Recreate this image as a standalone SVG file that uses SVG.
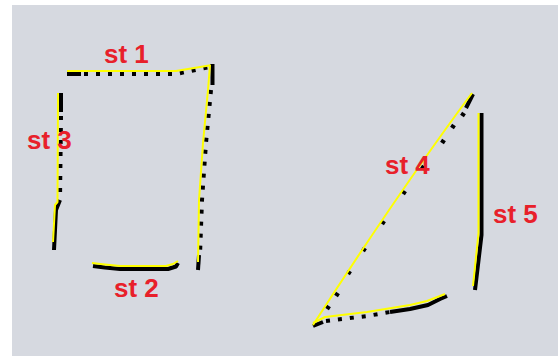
<svg xmlns="http://www.w3.org/2000/svg" width="558" height="356" viewBox="0 0 558 356">
<style>
.y{fill:none;stroke:#ffff00;stroke-width:2;stroke-linejoin:round}
.b{fill:none;stroke:#000;stroke-width:4;stroke-linejoin:round}
.d{stroke-dasharray:4 8}
.lbl{font-family:"Liberation Sans",Arial,sans-serif;font-weight:bold;font-size:26px;fill:#e8202a}
</style>
<rect x="0" y="0" width="558" height="356" fill="#ffffff"/>
<rect x="12" y="5" width="546" height="351" fill="#d6d9e0"/>
<g id="st1">
<path class="b" d="M67,74 L81,74"/>
<path class="b d" d="M84,74 L176,74 L200,69 L210,67"/>
<path class="y" d="M67,71 L176,71 L200,67 L212,65"/>
<text class="lbl" x="104" y="63">st 1</text>
</g>
<g id="right-side">
<path class="b" d="M212.5,64 L212.5,85"/>
<path class="b d" d="M211,90 L206,143 L202,200 L200,255"/>
<path class="b" d="M199,255 L198,270"/>
<path class="y" d="M210,65 L208,90 L203,143 L199,200 L198,262"/>
</g>
<g id="st3">
<path class="b" d="M61,93 L61,112"/>
<path class="b d" d="M61,116 L60,200"/>
<path class="b" d="M60,200 L56,210 L54,250"/>
<path class="y" d="M58,93 L57.5,202 L55,205 L53,242"/>
<text class="lbl" x="27" y="149">st 3</text>
</g>
<g id="st2">
<path class="b" d="M93,266 L105,267.5 L120,269 L168,269 L176,266.5 L178,263"/>
<path class="y" d="M92,263 L105,264.5 L120,266 L166,266 L173,264 L178,261"/>
<text class="lbl" x="114" y="297">st 2</text>
</g>
<g id="st4">
<path class="b" d="M473,94 L466,108"/>
<path fill="none" stroke="#000" stroke-width="4.5" d="M464,113 l-2,3 M454,125 l-2,3 M444,140 l-2,3 M424,166 l-2,3 M405,191 l-2,3 M384,221 l-2,3 M365,248 l-2,3 M350,271 l-2,3 M338,293 l-2,3 M329,306 l-2,3"/>
<path class="b" d="M313,326 L323,322"/>
<path class="b d" d="M326,321 L367,316 L390,312"/>
<path class="b" d="M390,312 L410,309 L428,305 L440,299 L447,296"/>
<path class="y" d="M472,93 Q400,190 313,325"/>
<path class="y" d="M313,323 L325,317 L367,312 L410,305 L427,301 L440,296 L445,294"/>
<text class="lbl" x="385" y="174">st 4</text>
</g>
<g id="st5">
<path class="b" d="M481.5,113 L481.5,235 L475,290"/>
<path class="y" d="M478.5,113 L478.5,233 L473,286"/>
<text class="lbl" x="493" y="223">st 5</text>
</g>
</svg>
